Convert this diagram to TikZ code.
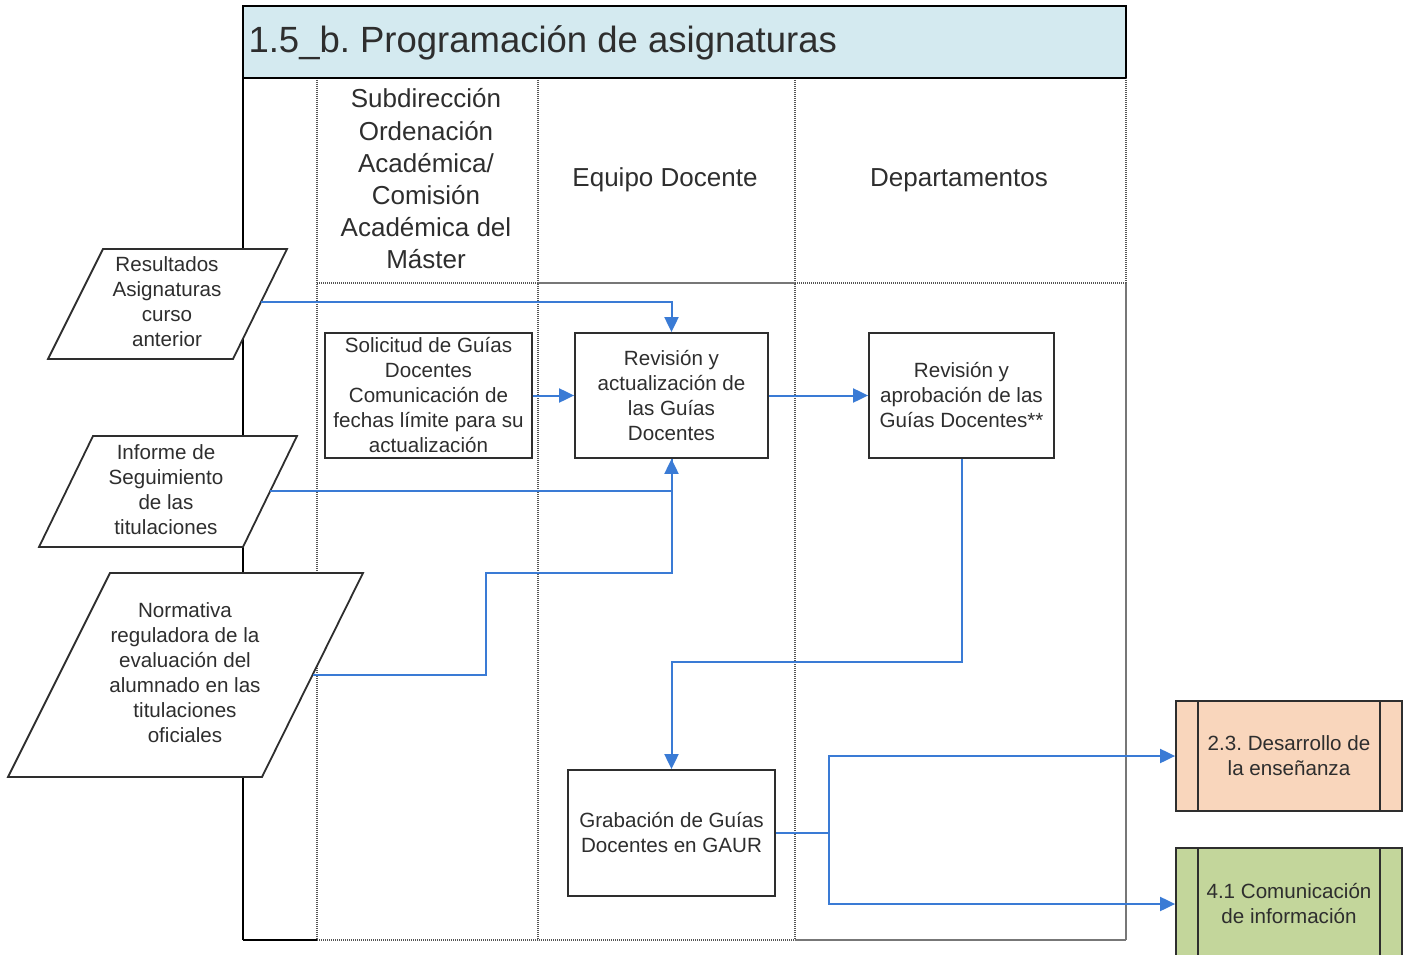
\documentclass[tikz,border=0pt]{standalone}
\usepackage{fontspec}
\setmainfont{Liberation Sans}
\usetikzlibrary{arrows.meta}
\definecolor{flowc}{HTML}{3A7BD5}
\definecolor{titlec}{HTML}{D4EAF0}
\definecolor{peachc}{HTML}{F9D6BC}
\definecolor{greenc}{HTML}{C3D69B}
\definecolor{txtc}{HTML}{2E2E2E}
\definecolor{lanec}{HTML}{555555}
\frenchspacing
\begin{document}
\begin{tikzpicture}[x=1pt,y=-1pt,
  txt/.style={font=\fontsize{20.6}{25}\selectfont, text=txtc, align=center},
  hdr/.style={font=\fontsize{26}{32.2}\selectfont, text=txtc, align=center},
  box/.style={draw=txtc, line width=1.8pt, fill=white, txt, inner sep=0pt},
  pbox/.style={draw=txtc, line width=1.8pt, txt, inner sep=0pt, minimum width=226pt},
  para/.style={draw=txtc, line width=1.8pt, fill=white},
  flown/.style={draw=flowc, line width=2pt},
  flow/.style={flown, -{Triangle[length=15pt,width=14pt]}},
  lanedot/.style={draw=lanec, line width=1.8pt, dash pattern=on 1.2pt off 0.8pt},
  lanesol/.style={draw=lanec!80, line width=2pt}
]
\useasboundingbox (0,0) rectangle (1409,955);
% title band
\fill[titlec] (243,6) rectangle (1126,78);
\node[anchor=west, font=\fontsize{36.5}{42}\selectfont, text=txtc] (title) at (245,43) {1.5\_b. Programación de asignaturas};
% lanes
\draw[lanedot] (317,78) -- (317,940);
\draw[lanedot] (538,78) -- (538,940);
\draw[lanedot] (795,78) -- (795,940);
\draw[lanedot] (1126,78) -- (1126,283);
\draw[lanesol] (1126,283) -- (1126,940);
\draw[lanedot] (317,283) -- (538,283);
\draw[lanesol] (538,283) -- (795,283);
\draw[lanedot] (795,283) -- (1126,283);
\draw[lanedot] (317,940) -- (795,940);
\draw[lanesol] (795,940) -- (1126,940);
\draw[black, line width=2.4pt] (243,940) -- (243,6) -- (1126,6) -- (1126,78);
\draw[black, line width=2.4pt] (243,78) -- (1126,78);
\draw[black, line width=2.4pt] (243,940) -- (317,940);
% lane headers
\node[hdr] (l1) at (426,179) {Subdirección\\Ordenación\\Académica/\\Comisión\\Académica del\\Máster};
\node[hdr] (l2) at (665,180) {Equipo Docente};
\node[hdr] (l3) at (959,180) {Departamentos};
% input parallelograms
\draw[para] (103,249) -- (287,249) -- (233,359) -- (48,359) -- cycle;
\node[txt] (p1) at (167,302) {Resultados\\Asignaturas\\curso\\anterior};
\draw[para] (93,436) -- (297,436) -- (243,547) -- (39,547) -- cycle;
\node[txt] (p2) at (166,490) {Informe de\\Seguimiento\\de las\\titulaciones};
\draw[para] (110,573) -- (363,573) -- (262,777) -- (8,777) -- cycle;
\node[txt] (p3) at (185,673) {Normativa\\reguladora de la\\evaluación del\\alumnado en las\\titulaciones\\oficiales};
% process boxes
\node[box, minimum width=207pt, minimum height=125pt] (sol) at (428.5,395.5) {Solicitud de Guías\\Docentes\\Comunicación de\\fechas límite para su\\actualización};
\node[box, minimum width=193pt, minimum height=125pt] (rev) at (671.5,395.5) {Revisión y\\actualización de\\las Guías\\Docentes};
\node[box, minimum width=185pt, minimum height=125pt] (apr) at (961.5,395.5) {Revisión y\\aprobación de las\\Guías Docentes**};
\node[box, minimum width=207pt, minimum height=126pt] (grab) at (671.5,833) {Grabación de Guías\\Docentes en GAUR};
\node[pbox, fill=peachc, minimum height=110pt] (des) at (1289,756) {2.3. Desarrollo de\\la enseñanza};
\node[pbox, fill=greenc, minimum height=112pt] (com) at (1289,904) {4.1 Comunicación\\de información};
\foreach \n in {des,com}{
  \draw[txtc, line width=1.8pt] ([xshift=23pt]\n.north west) -- ([xshift=23pt]\n.south west);
  \draw[txtc, line width=1.8pt] ([xshift=-23pt]\n.north east) -- ([xshift=-23pt]\n.south east);
}
% connectors
\coordinate (r1) at (261,302);
\coordinate (r2) at (270,491);
\coordinate (r3) at (313,675);
\coordinate (k1) at (486,675);
\coordinate (k2) at (486,573);
\coordinate (m1) at (671.5,662);
\coordinate (sp) at (829,833);
\draw[flow] (r1) -| (rev.north);
\draw[flow] (sol.east) -- (rev.west);
\draw[flown] (r3) -- (k1) -- (k2) -| (rev.south);
\draw[flow] (r2) -| (rev.south);
\draw[flow] (rev.east) -- (apr.west);
\draw[flow] (apr.south) |- (m1) -- (grab.north);
\draw[flown] (grab.east) -- (sp);
\draw[flow] (sp) |- (des.west);
\draw[flow] (sp) |- (com.west);
\end{tikzpicture}
\end{document}
